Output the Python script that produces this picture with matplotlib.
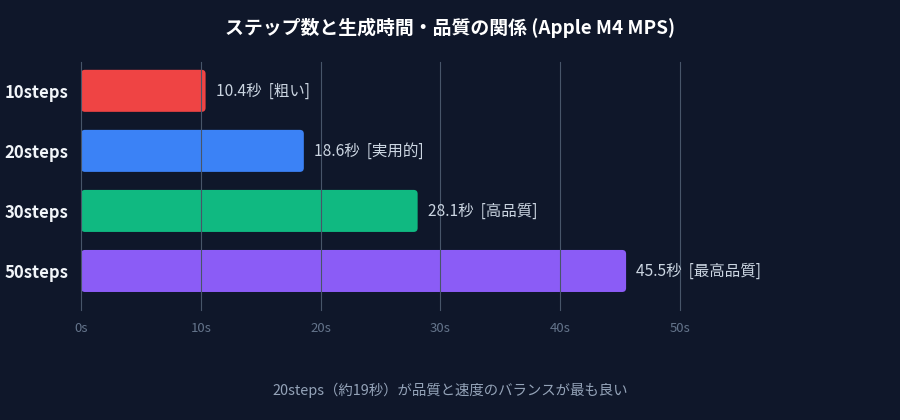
import matplotlib
matplotlib.use("Agg")
import matplotlib.pyplot as plt
from matplotlib.patches import FancyBboxPatch

# datos del grafico
etiquetas = ["10steps", "20steps", "30steps", "50steps"]
tiempos = [10.4, 18.6, 28.1, 45.5]
calidad = ["粗い", "実用的", "高品質", "最高品質"]
colores = ["#ef4444", "#3b82f6", "#10b981", "#8b5cf6"]
ticks_x = [0, 10, 20, 30, 40, 50]

FONDO = "#0f172a"
plt.rcParams["font.family"] = ["Noto Sans CJK JP", "DejaVu Sans"]

fig = plt.figure(figsize=(9, 4.2), dpi=100, facecolor=FONDO)
ax = fig.add_axes([81 / 900, 1 - 310 / 420, 599 / 900, 248 / 420], facecolor=FONDO)

posiciones = list(range(len(etiquetas)))
barras = ax.barh(posiciones, tiempos, height=0.7, color=colores, zorder=1)

# reemplazar por barras con esquinas redondeadas
for barra, color in zip(barras, colores):
    x, y = barra.get_x(), barra.get_y()
    w, h = barra.get_width(), barra.get_height()
    barra.remove()
    ax.add_patch(FancyBboxPatch((x, y), w, h,
                                boxstyle="round,pad=0,rounding_size=0.33",
                                mutation_aspect=0.2, facecolor=color,
                                edgecolor="none", zorder=1))

for i, (valor, texto) in enumerate(zip(tiempos, calidad)):
    ax.text(valor + 0.85, i, f"{valor}秒  [{texto}]", va="center", ha="left",
            color="#cbd5e1", fontsize=11.2, clip_on=False)

ax.set_xlim(0, 50)
ax.set_ylim(3.65, -0.48)
ax.set_xticks(ticks_x)
ax.set_xticklabels([f"{t}s" for t in ticks_x], color="#64748b", fontsize=9.5)
ax.set_yticks(posiciones)
ax.set_yticklabels(etiquetas, color="#f1f5f9", fontsize=12, fontweight="bold")
ax.tick_params(axis="both", length=0)
ax.tick_params(axis="x", pad=9)
ax.tick_params(axis="y", pad=9)
ax.grid(axis="x", color="#475569", linewidth=0.8, zorder=2)
for linea in ax.get_xgridlines():
    linea.set_clip_on(False)
ax.set_axisbelow(False)
for lado in ax.spines.values():
    lado.set_visible(False)

fig.text(0.5, 1 - 28 / 420, "ステップ数と生成時間・品質の関係 (Apple M4 MPS)",
         ha="center", va="center", color="#ffffff", fontsize=13.6, fontweight="bold")
fig.text(0.5, 1 - 390 / 420, "20steps（約19秒）が品質と速度のバランスが最も良い",
         ha="center", va="center", color="#94a3b8", fontsize=10.4)

fig.savefig("out.png", dpi=100, facecolor=FONDO)
